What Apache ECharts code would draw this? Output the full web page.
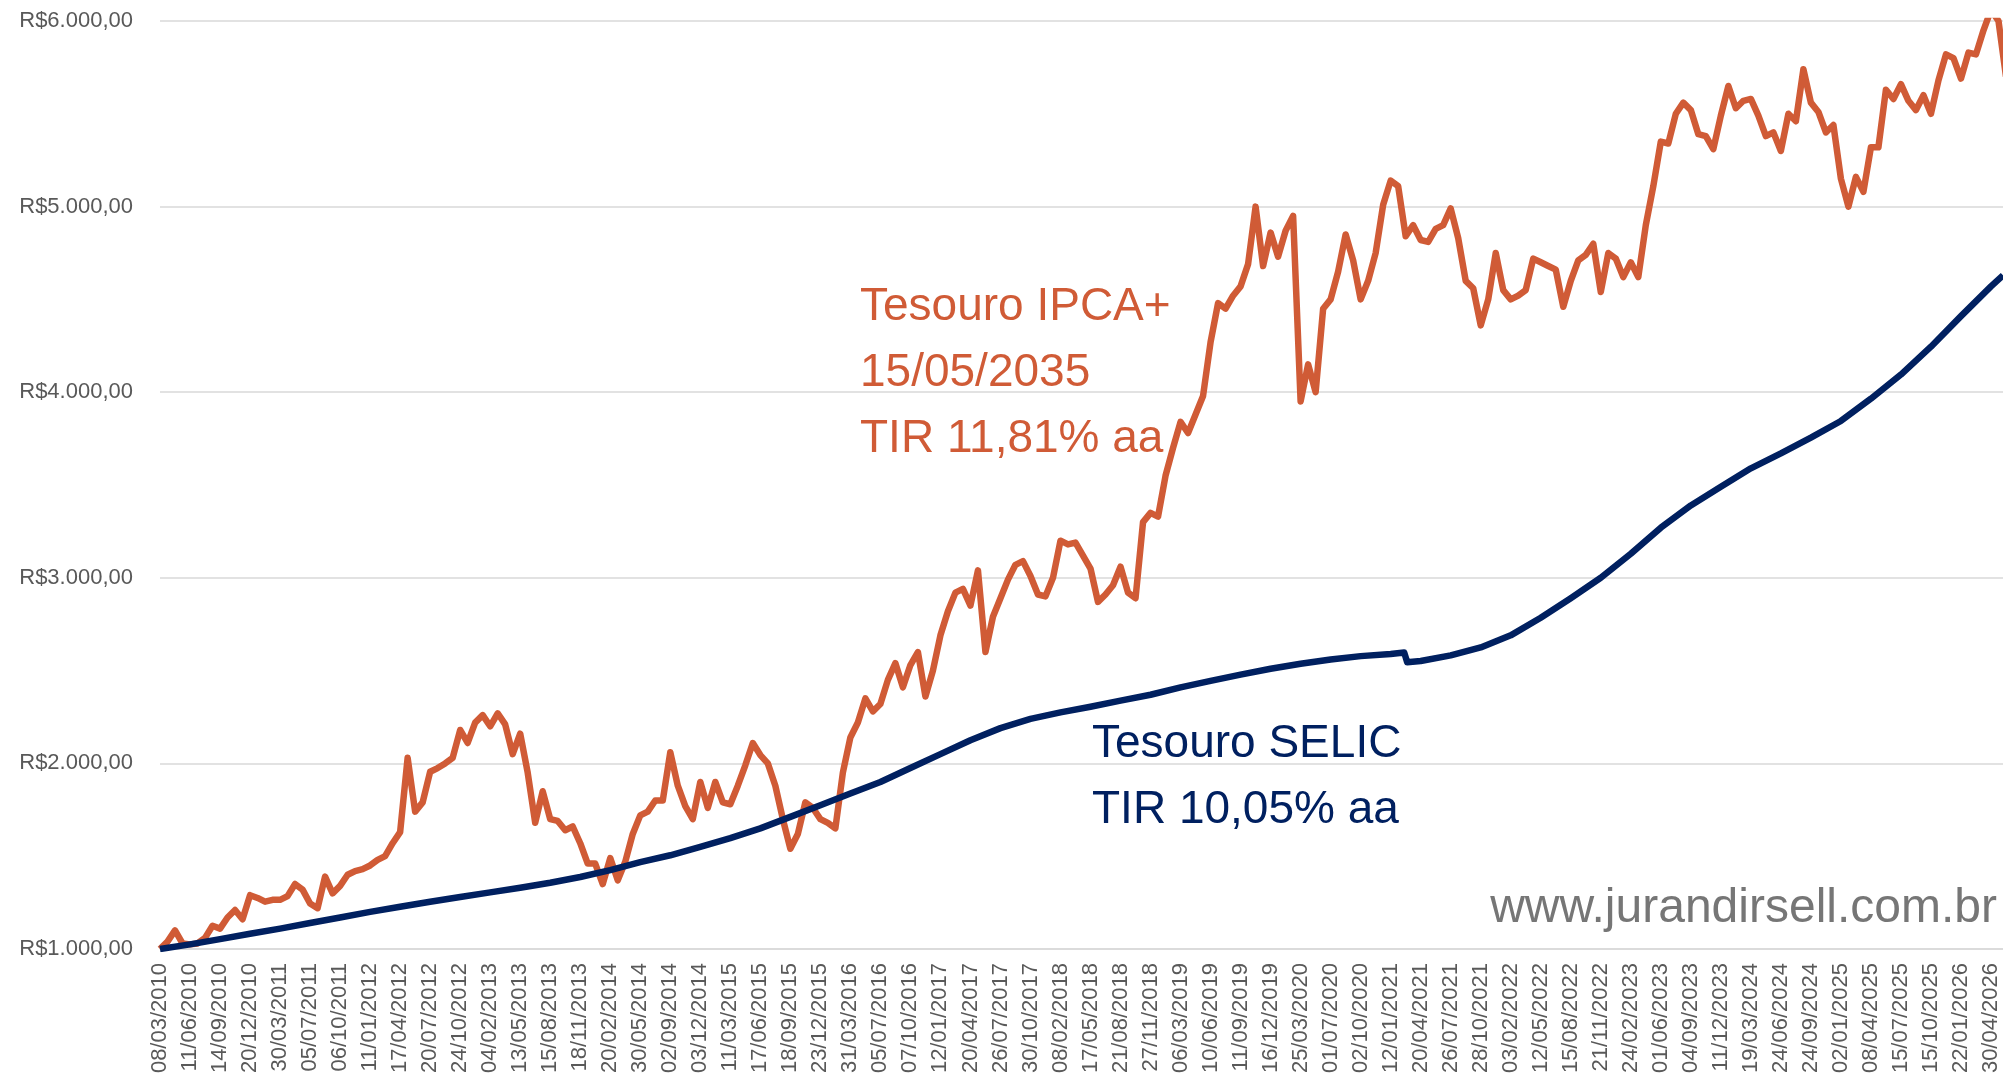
<!DOCTYPE html>
<html>
<head>
<meta charset="utf-8">
<title>Tesouro IPCA+ x Tesouro SELIC</title>
<script src="https://cdn.jsdelivr.net/npm/echarts@6/dist/echarts.min.js"></script>
<style>
  html, body { margin: 0; padding: 0; background: #fff; }
  #chart { width: 2003px; height: 1081px; }
</style>
</head>
<body>
<div id="chart"></div>
<script>
// date labels shown on the category-like x axis (one every ~3 months)
const dateLabels = [
  '08/03/2010', '11/06/2010', '14/09/2010', '20/12/2010', '30/03/2011', '05/07/2011',
  '06/10/2011', '11/01/2012', '17/04/2012', '20/07/2012', '24/10/2012', '04/02/2013',
  '13/05/2013', '15/08/2013', '18/11/2013', '20/02/2014', '30/05/2014', '02/09/2014',
  '03/12/2014', '11/03/2015', '17/06/2015', '18/09/2015', '23/12/2015', '31/03/2016',
  '05/07/2016', '07/10/2016', '12/01/2017', '20/04/2017', '26/07/2017', '30/10/2017',
  '08/02/2018', '17/05/2018', '21/08/2018', '27/11/2018', '06/03/2019', '10/06/2019',
  '11/09/2019', '16/12/2019', '25/03/2020', '01/07/2020', '02/10/2020', '12/01/2021',
  '20/04/2021', '26/07/2021', '28/10/2021', '03/02/2022', '12/05/2022', '15/08/2022',
  '21/11/2022', '24/02/2023', '01/06/2023', '04/09/2023', '11/12/2023', '19/03/2024',
  '24/06/2024', '24/09/2024', '02/01/2025', '08/04/2025', '15/07/2025', '15/10/2025',
  '22/01/2026', '30/04/2026'
];

const yTicks = [1000, 2000, 3000, 4000, 5000, 6000];

// Tesouro IPCA+ 2035, one value every quarter of a label step
const ipcaStep = 0.25;
const ipca = [
  1000, 1040, 1100, 1030, 1025, 1030, 1060, 1125, 1110, 1170, 1210, 1160,
  1290, 1275, 1255, 1265, 1265, 1285, 1350, 1320, 1245, 1220, 1390, 1300,
  1340, 1400, 1420, 1430, 1450, 1480, 1500, 1570, 1630, 2030, 1740, 1790,
  1955, 1975, 2000, 2030, 2180, 2110, 2220, 2260, 2200, 2270, 2210, 2050,
  2160, 1950, 1680, 1850, 1700, 1690, 1640, 1660, 1570, 1460, 1460, 1350,
  1490, 1370, 1470, 1620, 1720, 1740, 1800, 1800, 2060, 1880, 1770, 1700,
  1900, 1760, 1900, 1790, 1780, 1880, 1990, 2110, 2045, 2000, 1880, 1700,
  1540, 1620, 1790, 1760, 1700, 1680, 1650, 1950, 2140, 2220, 2350, 2280,
  2320, 2450, 2540, 2410, 2530, 2600, 2360, 2500, 2690, 2820, 2920, 2940,
  2850, 3040, 2600, 2790, 2890, 2990, 3070, 3090, 3010, 2910, 2900, 3000,
  3200, 3180, 3190, 3120, 3050, 2870, 2910, 2960, 3060, 2920, 2890, 3300,
  3350, 3330, 3550, 3700, 3840, 3780, 3880, 3980, 4270, 4480, 4450, 4520,
  4570, 4690, 5000, 4680, 4860, 4730, 4870, 4950, 3950, 4150, 4000, 4450,
  4500, 4650, 4850, 4710, 4500, 4600, 4750, 5010, 5140, 5110, 4840, 4900,
  4820, 4810, 4880, 4900, 4990, 4830, 4600, 4560, 4360, 4500, 4750, 4550,
  4500, 4520, 4550, 4720, 4700, 4680, 4660, 4460, 4600, 4710, 4740, 4800,
  4540, 4750, 4720, 4620, 4700, 4620, 4900, 5110, 5350, 5340, 5500, 5560,
  5520, 5390, 5380, 5310, 5490, 5650, 5530, 5570, 5580, 5490, 5380, 5400,
  5300, 5500, 5460, 5740, 5560, 5510, 5400, 5440, 5150, 5000, 5160, 5080,
  5320, 5320, 5630, 5580, 5660, 5570, 5520, 5600, 5500, 5680, 5820, 5800,
  5690, 5830, 5820, 5950, 6060, 6000, 5700
];

// Tesouro SELIC, positions in label steps and values
const selicIdx = [
  0, 1, 2, 3, 4, 5, 6, 7, 8, 9, 10, 11, 12, 13, 14, 15, 16, 17, 18, 19, 20,
  21, 22, 23, 24, 25, 26, 27, 28, 29, 30, 31, 32, 33, 34, 35, 36, 37, 38, 39, 40,
  41, 41.45, 41.55, 42, 43, 44, 45, 46, 47, 48, 49, 50, 51, 52, 53, 54, 55, 56,
  57, 58, 59, 60, 61, 61.4
];
const selic = [
  1000, 1025, 1053, 1082, 1110, 1140, 1170, 1200, 1228, 1255, 1280, 1305, 1330,
  1357, 1388, 1425, 1468, 1505, 1550, 1597, 1650, 1712, 1775, 1838, 1900, 1975,
  2050, 2125, 2190, 2240, 2275, 2305, 2338, 2370, 2410, 2445, 2478, 2510, 2537,
  2560, 2578, 2590, 2598, 2545, 2552, 2582, 2625, 2690, 2785, 2890, 3000, 3130,
  3270, 3390, 3490, 3590, 3670, 3755, 3845, 3965, 4095, 4245, 4410, 4570, 4630
];

const ipcaColor = '#D05B36';
const selicColor = '#002060';

function brl (v) {
  const s = String(Math.round(v)).replace(/\B(?=(\d{3})+(?!\d))/g, '.');
  return 'R$' + s + ',00';
}

const chart = echarts.init(document.getElementById('chart'));

const option = {
  backgroundColor: '#ffffff',
  animation: false,
  grid: {
    left: 160,
    right: 0,
    top: 21,
    bottom: 132,
    containLabel: false
  },
  xAxis: {
    type: 'value',
    min: 0,
    max: 61.4,
    interval: 1,
    axisLine: {
      show: true,
      lineStyle: { color: '#D9D9D9', width: 1.5 }
    },
    axisTick: { show: false },
    splitLine: { show: false },
    axisLabel: {
      rotate: 90,
      margin: 14,
      fontFamily: 'Liberation Sans',
      fontSize: 22,
      color: '#595959',
      showMaxLabel: false,
      formatter: function (v) {
        return Number.isInteger(v) && dateLabels[v] ? dateLabels[v] : '';
      }
    }
  },
  yAxis: {
    type: 'value',
    min: yTicks[0],
    max: yTicks[yTicks.length - 1],
    interval: 1000,
    axisLine: { show: false },
    axisTick: { show: false },
    splitLine: {
      lineStyle: { color: '#D9D9D9', width: 1.5 }
    },
    axisLabel: {
      margin: 27,
      fontFamily: 'Liberation Sans',
      fontSize: 22,
      color: '#595959',
      formatter: brl
    }
  },
  series: [
    {
      name: 'Tesouro IPCA+ 15/05/2035',
      type: 'line',
      showSymbol: false,
      data: ipca.map((v, k) => [k * ipcaStep, v]),
      lineStyle: { color: ipcaColor, width: 6.5, join: 'round' },
      itemStyle: { color: ipcaColor },
      z: 2
    },
    {
      name: 'Tesouro SELIC',
      type: 'line',
      showSymbol: false,
      data: selicIdx.map((x, k) => [x, selic[k]]),
      lineStyle: { color: selicColor, width: 6.5, join: 'round' },
      itemStyle: { color: selicColor },
      z: 3
    }
  ],
  graphic: [
    {
      type: 'text',
      left: 860,
      top: 274,
      style: {
        text: 'Tesouro IPCA+\n15/05/2035\nTIR 11,81% aa',
        fontFamily: 'Liberation Sans',
        fontSize: 46,
        lineHeight: 66,
        fill: ipcaColor
      }
    },
    {
      type: 'text',
      left: 1092,
      top: 711,
      style: {
        text: 'Tesouro SELIC\nTIR 10,05% aa',
        fontFamily: 'Liberation Sans',
        fontSize: 46,
        lineHeight: 66,
        fill: selicColor
      }
    },
    {
      type: 'text',
      right: 6,
      top: 885,
      style: {
        text: 'www.jurandirsell.com.br',
        fontFamily: 'Liberation Sans',
        fontSize: 48,
        fill: '#767676'
      }
    }
  ]
};

chart.setOption(option);
</script>
</body>
</html>
